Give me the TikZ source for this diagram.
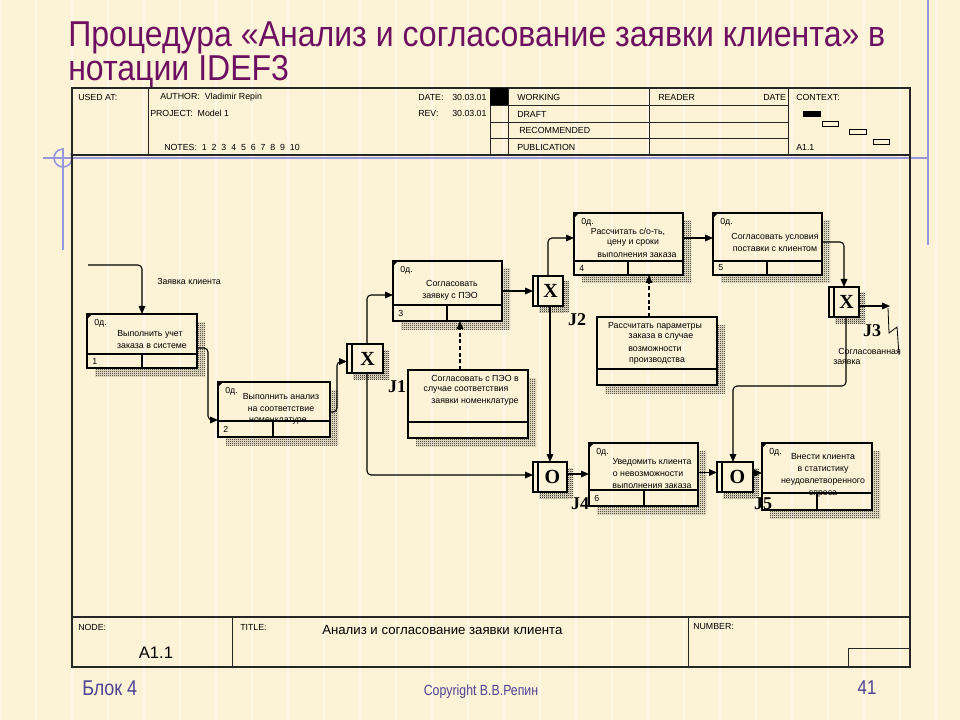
\documentclass[tikz,border=0pt]{standalone}
\usepackage{fontspec}
\setmainfont{Liberation Sans}
\newfontfamily\serifface{Liberation Serif}
\newfontfamily\narrowfont[FakeStretch=0.84]{Liberation Sans}
\newfontfamily\titlefont[FakeStretch=0.89]{Liberation Sans}
\usetikzlibrary{fit,arrows.meta,patterns}
\definecolor{bg}{RGB}{252,242,214}
\definecolor{titlecol}{RGB}{110,16,98}
\definecolor{footcol}{RGB}{78,66,150}
\definecolor{deco}{RGB}{150,150,225}
\pgfdeclarepatternformonly{finedots}{\pgfpointorigin}{\pgfpoint{1.5pt}{1.5pt}}{\pgfpoint{1.5pt}{1.5pt}}{%
  \pgfpathrectangle{\pgfpointorigin}{\pgfpoint{0.75pt}{0.75pt}}%
  \pgfpathrectangle{\pgfpoint{0.75pt}{0.75pt}}{\pgfpoint{0.75pt}{0.75pt}}%
  \pgfusepath{fill}}
% unit of work box: name x0 y0 x1 y1 stripy divx number
\newcommand\uobbox[8]{%
  \fill[pattern=finedots] (#4,#3+8) rectangle (#4+8,#5+8);
  \fill[pattern=finedots] (#2+8,#5) rectangle (#4,#5+8);
  \node[boxst, fit={(#2,#3) (#4,#5)}] (#1) {};
  \draw[boxline] (#2,#6) -- (#4,#6);
  \draw[boxline] (#7,#6) -- (#7,#5);
  \fill (#2,#3) -- (#2+5,#3) -- (#2,#3+5) -- cycle;
  \node[tiny, anchor=west] at (#2+5,{(#6+#5)/2}) {#8};
  \node[tiny, anchor=west] at (#2+7,#3+9) {0д.};
}
% referent box: name x0 y0 x1 y1 stripy
\newcommand\refbox[6]{%
  \fill[pattern=finedots] (#4,#3+8) rectangle (#4+8,#5+8);
  \fill[pattern=finedots] (#2+8,#5) rectangle (#4,#5+8);
  \node[boxst, fit={(#2,#3) (#4,#5)}] (#1) {};
  \draw[boxline] (#2,#6) -- (#4,#6);
}
% junction: name x0 y0 x1 y1 letter
\newcommand\junc[6]{%
  \fill[pattern=finedots] (#4,#3+6) rectangle (#4+6,#5+6);
  \fill[pattern=finedots] (#2+6,#5) rectangle (#4,#5+6);
  \node[boxst, fit={(#2,#3) (#4,#5)}] (#1) {};
  \draw[boxline] (#2+5,#3) -- (#2+5,#5);
  \node[jl] at ({(#2+5+#4)/2},{(#3+#5)/2}) {#6};
}
\begin{document}
\begin{tikzpicture}[x=0.75pt,y=-0.75pt,
  boxst/.style={draw, line width=1.2pt, inner sep=0pt, outer sep=0pt},
  boxline/.style={line width=1.1pt},
  frame/.style={draw=black!85, line width=1.1pt},
  hline/.style={draw=black!85, line width=0.7pt},
  arr/.style={line width=0.8pt, rounded corners=3pt, -{Triangle[length=6pt,width=5pt]}},
  dasharr/.style={line width=0.8pt, dash pattern=on 3pt off 2pt, -{Triangle[length=6pt,width=5pt]}},
  tiny/.style={font=\fontsize{6.6}{7.5}\selectfont, inner sep=0pt},
  hdr/.style={font=\fontsize{6.6}{7.5}\selectfont, inner sep=0pt, anchor=west},
  jl/.style={font=\serifface\bfseries\fontsize{15}{15}\selectfont, inner sep=0pt},
  jlab/.style={font=\serifface\bfseries\fontsize{13.5}{13.5}\selectfont, inner sep=0pt}]
\useasboundingbox (0,0) rectangle (960,720);
\fill[bg] (0,0) rectangle (960,720);
% faint grid texture
\draw[white, opacity=0.45, line width=0.8pt] (0,0) grid[step=36] (960,720);
% decorative lines
\draw[deco, line width=1.6pt] (928,0) -- (928,245);
\draw[deco, line width=1.4pt] (43,158) -- (928,158);
\draw[deco, line width=1.4pt] (63,148) -- (63,250);
\draw[deco, line width=1.2pt] (63,158) ++(-30:9) arc[start angle=-30, end angle=270, radius=9];
% title
\node[anchor=west, inner sep=0pt, text=titlecol, font=\titlefont\fontsize{27}{27}\selectfont] (t1) at (68,38) {Процедура «Анализ и согласование заявки клиента» в};
\node[anchor=west, inner sep=0pt, text=titlecol, font=\titlefont\fontsize{27}{27}\selectfont] (t2) at (68,72) {нотации IDEF3};
% frame
\draw[frame] (72,88) rectangle (910,667);
\draw[frame] (72,155) -- (910,155);
\draw[frame] (72,617) -- (910,617);
% header
\draw[hline] (148,88) -- (148,155);
\draw[hline] (490,88) -- (490,155);
\draw[hline] (508,88) -- (508,155);
\draw[hline] (649,88) -- (649,155);
\draw[hline] (788,88) -- (788,155);
\draw[hline] (490,105.5) -- (788,105.5);
\draw[hline] (490,122) -- (788,122);
\draw[hline] (490,138.5) -- (788,138.5);
\fill (490,88) rectangle (508,105.5);
\node[hdr] (usedat) at (78,97) {USED AT:};
\node[hdr] (author) at (160,97) {AUTHOR:\ \ Vladimir Repin};
\node[hdr] (project) at (150,113) {PROJECT:\ \ Model 1};
\node[hdr] (notes) at (164,147) {NOTES:\ \ 1\ \ 2\ \ 3\ \ 4\ \ 5\ \ 6\ \ 7\ \ 8\ \ 9\ \ 10};
\node[hdr] (date) at (418,97) {DATE:};
\node[hdr] (datev) at (452,97) {30.03.01};
\node[hdr] (rev) at (418,113) {REV:};
\node[hdr] (revv) at (452,113) {30.03.01};
\node[hdr] (working) at (517,97) {WORKING};
\node[hdr] (draft) at (517,114) {DRAFT};
\node[hdr] (recom) at (519,130) {RECOMMENDED};
\node[hdr] (publ) at (517,147) {PUBLICATION};
\node[hdr] (reader) at (658,97) {READER};
\node[hdr] (rdate) at (763,97) {DATE};
\node[hdr] (context) at (796,97) {CONTEXT:};
\node[hdr] (ctxnum) at (796,147) {A1.1};
\fill (803,111) rectangle (821,117);
\draw[line width=0.7pt] (822,121) rectangle (838,126);
\draw[line width=0.7pt] (849,129) rectangle (866,134);
\draw[line width=0.7pt] (873,139) rectangle (889,144);
% footer
\draw[hline] (232,617) -- (232,667);
\draw[hline] (688,617) -- (688,667);
\draw[hline] (848,648) rectangle (910,667);
\node[hdr] (nodel) at (78,627) {NODE:};
\node[inner sep=0pt, font=\fontsize{12.5}{13}\selectfont] (nodev) at (156,653) {A1.1};
\node[hdr] (titlel) at (240,627) {TITLE:};
\node[anchor=west, inner sep=0pt, font=\fontsize{9.9}{11}\selectfont] (titlev) at (322,630) {Анализ и согласование заявки клиента};
\node[hdr] (numberl) at (693,627) {NUMBER:};
\node[anchor=west, inner sep=0pt, text=footcol, font=\narrowfont\fontsize{16}{16}\selectfont] (blok) at (82,688) {Блок 4};
\node[inner sep=0pt, text=footcol, font=\narrowfont\fontsize{11}{12}\selectfont] (copy) at (481,692) {Copyright В.В.Репин};
\node[inner sep=0pt, text=footcol, font=\narrowfont\fontsize{15}{15}\selectfont] (pnum) at (867,688) {41};
% ---- boxes ----
\uobbox{b1}{87}{314}{197}{368}{354}{142}{1}
\node[tiny] at (150,334) {Выполнить учет};
\node[tiny] at (152,346) {заказа в системе};
\uobbox{b2}{218}{382}{330}{437}{421}{273}{2}
\node[tiny] at (281,397) {Выполнить анализ};
\node[tiny] at (281,409) {на соответствие};
\node[tiny] at (278,421) {номенклатуре};
\uobbox{b3}{393}{261}{502}{321}{305}{447}{3}
\node[tiny] at (452,283) {Согласовать};
\node[tiny] at (450,296) {заявку с ПЭО};
\uobbox{b4}{574}{213}{683}{275}{261}{628}{4}
\node[tiny] at (628,232) {Рассчитать с/о-ть,};
\node[tiny] at (633,243) {цену и сроки};
\node[tiny] at (637,255) {выполнения заказа};
\uobbox{b5}{713}{213}{822}{275}{261}{767}{5}
\node[tiny] at (775,237) {Согласовать условия};
\node[tiny] at (775,249) {поставки с клиентом};
\uobbox{b6}{589}{443}{698}{506}{490}{644}{6}
\node[tiny] at (652,462) {Уведомить клиента};
\node[tiny] at (648,474) {о невозможности};
\node[tiny] at (652,486) {выполнения заказа};
\uobbox{b7}{762}{443}{872}{510}{493}{817}{}
\node[tiny] at (823,457) {Внести клиента};
\node[tiny] at (823,470) {в статистику};
\node[tiny] at (823,482) {неудовлетворенного};
\node[tiny] at (823,494) {спроса};
% referents
\refbox{r1}{408}{370}{528}{438}{422}
\node[tiny] at (475,378) {Согласовать с ПЭО в};
\node[tiny] at (466,390) {случае соответствия};
\node[tiny] at (475,402) {заявки номенклатуре};
\refbox{r2}{597}{317}{717}{385}{369}
\node[tiny] at (655,326) {Рассчитать параметры};
\node[tiny] at (661,337) {заказа в случае};
\node[tiny] at (655,349) {возможности};
\node[tiny] at (657,361) {производства};
% junctions
\junc{j1}{347}{344}{383}{373}{X}
\junc{j2}{533}{276}{563}{306}{X}
\junc{j3}{829}{287}{859}{317}{X}
\junc{j4}{533}{462}{567}{492}{O}
\junc{j5}{717}{462}{753}{492}{O}
\node[jlab] (lj1) at (397,387) {J1};
\node[jlab] (lj2) at (577,320) {J2};
\node[jlab] (lj3) at (872,331) {J3};
\node[jlab] (lj4) at (580,504) {J4};
\node[jlab] (lj5) at (763,504) {J5};
% ---- connectors ----
\coordinate (in0) at (88,265);
\draw[arr] (in0) -| (b1.north);
\node[tiny, anchor=west] (lin) at (157,281) {Заявка клиента};
\draw[arr] ([shift={(0,7)}]b1.east) -- ++(11,0) |- ([shift={(0,10.5)}]b2.west);
\draw[arr] ([shift={(0,2.5)}]b2.east) -- ++(7,0) |- ([shift={(0,3)}]j1.west);
\draw[arr] ([shift={(2,0)}]j1.north) |- ([shift={(0,4)}]b3.west);
\draw[arr] ([shift={(2,0)}]j1.south) |- ([shift={(0,-2)}]j4.west);
\draw[arr] (b3.east) -- (b3.east -| j2.west);
\draw[arr] (j2.north) |- ([shift={(0,-6)}]b4.west);
\draw[arr] ([shift={(2,0)}]j2.south) -- ([shift={(2,0)}]j2.south |- j4.north);
\draw[arr] ([shift={(0,-6)}]b4.east) -- ([shift={(0,-6)}]b5.west);
\draw[arr] ([shift={(0,-2)}]b5.east) -| (j3.north);
\coordinate (out3) at (890,306);
\draw[arr] (j3.east |- out3) -- (out3);
\coordinate (sq1) at (888,308);
\draw[line width=0.6pt] (sq1) -- (889,333) -- (897,327) -- (899,355);
\node[tiny, anchor=west] (lout1) at (838,351) {Согласованная};
\node[tiny, anchor=west] (lout2) at (833,362) {заявка};
\draw[arr] ([shift={(2,0)}]j3.south) -- ++(0,69) -| ([shift={(-2,0)}]j5.north);
\draw[arr] ([shift={(0,-3)}]j4.east) -- ([shift={(0,-3)}]j4.east -| b6.west);
\draw[arr] ([shift={(0,-2)}]b6.east) -- ([shift={(0,-2)}]b6.east -| j5.west);
\draw[arr] ([shift={(0,-4)}]j5.east) -- ([shift={(0,-4)}]j5.east -| b7.west);
\draw[dasharr] ([shift={(-8,0)}]r1.north) -- ([shift={(-8,0)}]r1.north |- b3.south);
\draw[dasharr] ([shift={(-8,0)}]r2.north) -- ([shift={(-8,0)}]r2.north |- b4.south);
\end{tikzpicture}
\end{document}
